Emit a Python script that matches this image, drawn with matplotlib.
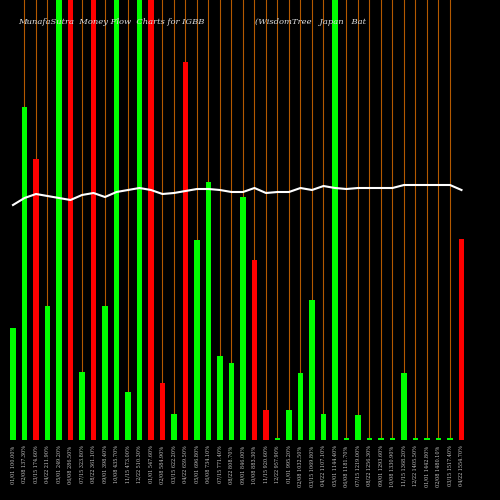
import numpy as np
import matplotlib.pyplot as plt

# bar heights (pixels above baseline, chart is 440 tall), colours, white line
heights = [112, 333, 281, 134, 460, 460, 68, 460, 134, 460,
           48, 460, 460, 57, 26, 378, 200, 258, 84, 77,
           243, 180, 30, 2, 30, 67, 140, 26, 460, 2,
           25, 2, 2, 2, 67, 2, 2, 2, 2, 201]
colors = ['g', 'g', 'r', 'g', 'g', 'r', 'g', 'r', 'g', 'g',
          'g', 'g', 'r', 'r', 'g', 'r', 'g', 'g', 'g', 'g',
          'g', 'r', 'r', 'g', 'g', 'g', 'g', 'g', 'g', 'g',
          'g', 'g', 'g', 'g', 'g', 'g', 'g', 'g', 'g', 'r']
line = [235, 242, 246, 244, 242, 240, 245, 247, 243, 248,
        250, 252, 250, 246, 247, 249, 251, 251, 250, 248,
        248, 252, 247, 248, 248, 252, 250, 254, 252, 251,
        252, 252, 252, 252, 255, 255, 255, 255, 255, 250]
labels = ["%02d/%02d %.2f%%" % (1 + i % 12, 1 + (i * 7) % 28, 100 + i * 37.3) for i in range(40)]

cmap = {'g': '#00ff00', 'r': '#ff0000'}
x = np.arange(len(heights))

fig = plt.figure(figsize=(5, 5), dpi=100, facecolor='black')
ax = fig.add_axes([0, 0.12, 1, 0.88], facecolor='black')
for xi in x[1:-1]:
    ax.axvline(xi, color='#b35900', lw=0.8, zorder=0)
ax.bar(x, heights, width=0.5, color=[cmap[c] for c in colors], zorder=2)
ax.plot(x, line, color='white', lw=1.5, zorder=3)
ax.set_xlim(-1.13, 42.35)
ax.set_ylim(0, 440)
ax.set_yticks([])
ax.set_xticks(x)
ax.set_xticklabels(labels, rotation=90, fontsize=3.5, color='#cccccc', family='DejaVu Serif')
ax.tick_params(axis='x', length=0, pad=4)
for s in ax.spines.values():
    s.set_visible(False)
fig.text(0.036, 0.952, "MunafaSutra  Money Flow  Charts for IGBB", color='#dddddd',
         fontsize=6, family='DejaVu Serif', style='italic', zorder=5)
fig.text(0.51, 0.952, "(WisdomTree   Japan   Bat", color='#dddddd',
         fontsize=6, family='DejaVu Serif', style='italic', zorder=5)
fig.savefig('out.png', dpi=100, facecolor='black')
